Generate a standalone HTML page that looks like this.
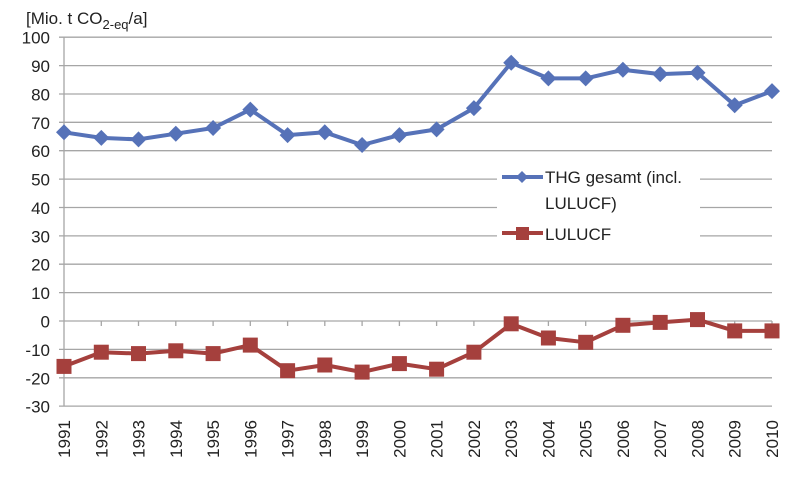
<!DOCTYPE html>
<html><head><meta charset="utf-8"><style>html,body{margin:0;padding:0;background:#fff}svg{display:block}text{font-family:"Liberation Sans",sans-serif;fill:#222;font-size:17px}</style></head>
<body>
<svg width="800" height="487" viewBox="0 0 800 487" xmlns="http://www.w3.org/2000/svg">
<defs>
<marker id="dm" markerUnits="userSpaceOnUse" markerWidth="18" markerHeight="18" refX="9" refY="9" overflow="visible"><polygon points="9,1 17,9 9,17 1,9" fill="#5672b8"/></marker>
<marker id="sq" markerUnits="userSpaceOnUse" markerWidth="18" markerHeight="18" refX="9" refY="9" overflow="visible"><rect x="1.5" y="1.5" width="15" height="15" fill="#a5403d"/></marker>
</defs>
<g stroke="#a6a6a6" stroke-width="1.3">
<line x1="59" x2="772" y1="406.1" y2="406.1"/><line x1="59" x2="772" y1="377.8" y2="377.8"/><line x1="59" x2="772" y1="349.4" y2="349.4"/><line x1="59" x2="772" y1="321" y2="321"/><line x1="59" x2="772" y1="292.6" y2="292.6"/><line x1="59" x2="772" y1="264.2" y2="264.2"/><line x1="59" x2="772" y1="235.9" y2="235.9"/><line x1="59" x2="772" y1="207.5" y2="207.5"/><line x1="59" x2="772" y1="179.1" y2="179.1"/><line x1="59" x2="772" y1="150.7" y2="150.7"/><line x1="59" x2="772" y1="122.3" y2="122.3"/><line x1="59" x2="772" y1="94" y2="94"/><line x1="59" x2="772" y1="65.6" y2="65.6"/><line x1="59" x2="772" y1="37.2" y2="37.2"/>
<line x1="64" x2="64" y1="37" y2="406"/>
<path d="M101.3 321v5M138.5 321v5M175.8 321v5M213.1 321v5M250.3 321v5M287.6 321v5M324.8 321v5M362.1 321v5M399.4 321v5M436.6 321v5M473.9 321v5M511.2 321v5M548.4 321v5M585.7 321v5M622.9 321v5M660.2 321v5M697.5 321v5M734.7 321v5M772 321v5"/>
</g>
<g text-anchor="end">
<text x="50" y="412.6">-30</text><text x="50" y="384.3">-20</text><text x="50" y="355.9">-10</text><text x="50" y="327.5">0</text><text x="50" y="299.1">10</text><text x="50" y="270.7">20</text><text x="50" y="242.4">30</text><text x="50" y="214">40</text><text x="50" y="185.6">50</text><text x="50" y="157.2">60</text><text x="50" y="128.8">70</text><text x="50" y="100.5">80</text><text x="50" y="72.1">90</text><text x="50" y="43.7">100</text>
<text transform="translate(70,420) rotate(-90)">1991</text><text transform="translate(107.3,420) rotate(-90)">1992</text><text transform="translate(144.5,420) rotate(-90)">1993</text><text transform="translate(181.8,420) rotate(-90)">1994</text><text transform="translate(219.1,420) rotate(-90)">1995</text><text transform="translate(256.3,420) rotate(-90)">1996</text><text transform="translate(293.6,420) rotate(-90)">1997</text><text transform="translate(330.8,420) rotate(-90)">1998</text><text transform="translate(368.1,420) rotate(-90)">1999</text><text transform="translate(405.4,420) rotate(-90)">2000</text><text transform="translate(442.6,420) rotate(-90)">2001</text><text transform="translate(479.9,420) rotate(-90)">2002</text><text transform="translate(517.2,420) rotate(-90)">2003</text><text transform="translate(554.4,420) rotate(-90)">2004</text><text transform="translate(591.7,420) rotate(-90)">2005</text><text transform="translate(628.9,420) rotate(-90)">2006</text><text transform="translate(666.2,420) rotate(-90)">2007</text><text transform="translate(703.5,420) rotate(-90)">2008</text><text transform="translate(740.7,420) rotate(-90)">2009</text><text transform="translate(778,420) rotate(-90)">2010</text>
</g>
<rect x="497" y="160" width="203" height="90" fill="#fff"/>
<polyline fill="none" stroke="#5672b8" stroke-width="4" stroke-linejoin="round" marker-start="url(#dm)" marker-mid="url(#dm)" marker-end="url(#dm)" points="64,132.3 101.3,137.9 138.5,139.4 175.8,133.7 213.1,128 250.3,109.6 287.6,135.1 324.8,132.3 362.1,145 399.4,135.1 436.6,129.4 473.9,108.1 511.2,62.7 548.4,78.4 585.7,78.4 622.9,69.8 660.2,74.1 697.5,72.7 734.7,105.3 772,91.1"/>
<polyline fill="none" stroke="#a5403d" stroke-width="4" stroke-linejoin="round" marker-start="url(#sq)" marker-mid="url(#sq)" marker-end="url(#sq)" points="64,366.4 101.3,352.2 138.5,353.6 175.8,350.8 213.1,353.6 250.3,345.1 287.6,370.7 324.8,365 362.1,372.1 399.4,363.6 436.6,369.2 473.9,352.2 511.2,323.8 548.4,338 585.7,342.3 622.9,325.3 660.2,322.4 697.5,319.6 734.7,330.9 772,330.9"/>
<line x1="502" x2="543" y1="177" y2="177" stroke="#5672b8" stroke-width="4"/><polygon points="522,171 528,177 522,183 516,177" fill="#5672b8"/>
<line x1="502" x2="543" y1="233" y2="233" stroke="#a5403d" stroke-width="4"/><rect x="516" y="227" width="13" height="13" fill="#a5403d"/>
<text x="545" y="183">THG gesamt (incl.</text><text x="545" y="209">LULUCF)</text><text x="545" y="240">LULUCF</text>
<text x="26" y="24" font-size="19">[Mio. t CO<tspan font-size="13" dy="5">2-eq</tspan><tspan dy="-5">/a]</tspan></text>
</svg>
</body></html>
